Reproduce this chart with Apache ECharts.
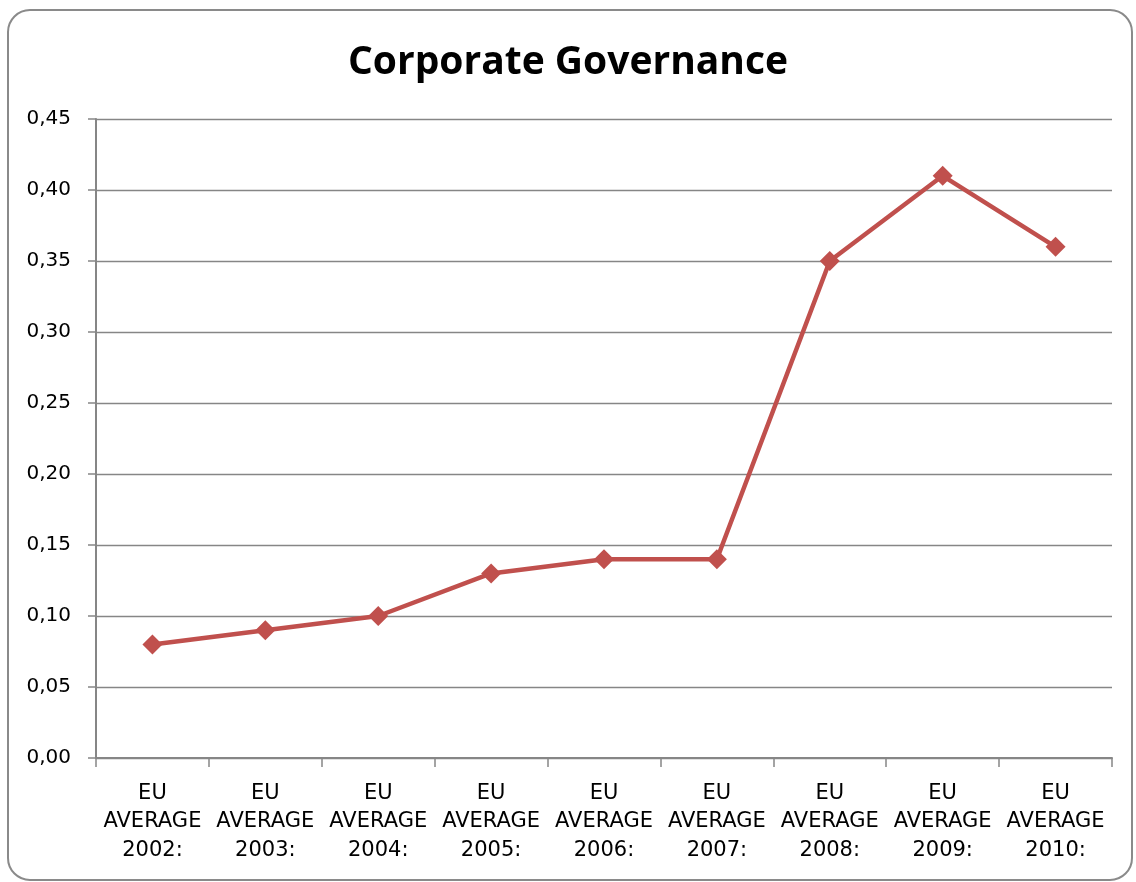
<!DOCTYPE html>
<html>
<head>
<meta charset="utf-8">
<script src="https://cdn.jsdelivr.net/npm/echarts@6/dist/echarts.min.js"></script>
<style>
  html, body { margin: 0; padding: 0; background: #fff; }
  #chart { width: 1136px; height: 882px; }
</style>
</head>
<body>
<div id="chart"></div>
<script>
// Category labels for the x axis
const categories = [
  'EU\nAVERAGE\n2002:', 'EU\nAVERAGE\n2003:', 'EU\nAVERAGE\n2004:',
  'EU\nAVERAGE\n2005:', 'EU\nAVERAGE\n2006:', 'EU\nAVERAGE\n2007:',
  'EU\nAVERAGE\n2008:', 'EU\nAVERAGE\n2009:', 'EU\nAVERAGE\n2010:'
];
// Corporate governance score per year
const values = [0.08, 0.09, 0.10, 0.13, 0.14, 0.14, 0.35, 0.41, 0.36];
// Value axis range
const yMin = 0;
const yMax = 0.45;
const yStep = 0.05;

const chart = echarts.init(document.getElementById('chart'));
const axisGray = '#868686';
const labelFont = '"DejaVu Sans", sans-serif';

chart.setOption({
  animation: false,
  backgroundColor: '#ffffff',
  graphic: [{
    type: 'rect',
    shape: { x: 8, y: 10, width: 1124, height: 870, r: 22 },
    style: { fill: 'none', stroke: '#8a8a8a', lineWidth: 2 },
    silent: true
  }],
  title: {
    text: 'Corporate Governance',
    left: 'center',
    top: 38,
    textStyle: {
      fontFamily: '"Open Sans", "Noto Sans", sans-serif',
      fontWeight: 'bold',
      fontSize: 39,
      color: '#000'
    }
  },
  grid: { left: 96, right: 24, top: 119, bottom: 124 },
  xAxis: {
    type: 'category',
    data: categories,
    boundaryGap: true,
    axisLine: { lineStyle: { color: axisGray, width: 2 } },
    axisTick: { show: true, length: 9, lineStyle: { color: axisGray, width: 1.5 } },
    axisLabel: {
      interval: 0,
      margin: 21,
      color: '#000',
      fontFamily: labelFont,
      fontSize: 21,
      lineHeight: 28.5
    }
  },
  yAxis: {
    type: 'value',
    min: yMin,
    max: yMax,
    interval: yStep,
    axisLine: { show: true, lineStyle: { color: axisGray, width: 2 } },
    axisTick: { show: true, length: 8, lineStyle: { color: axisGray, width: 1.5 } },
    splitLine: { lineStyle: { color: axisGray, width: 1.3 } },
    axisLabel: {
      margin: 25,
      color: '#000',
      fontFamily: labelFont,
      fontSize: 20,
      formatter: v => v.toFixed(2).replace('.', ',')
    }
  },
  series: [{
    type: 'line',
    data: values,
    symbol: 'diamond',
    symbolSize: 20,
    lineStyle: { color: '#C0504D', width: 4.5 },
    itemStyle: { color: '#C0504D' }
  }]
});
</script>
</body>
</html>
